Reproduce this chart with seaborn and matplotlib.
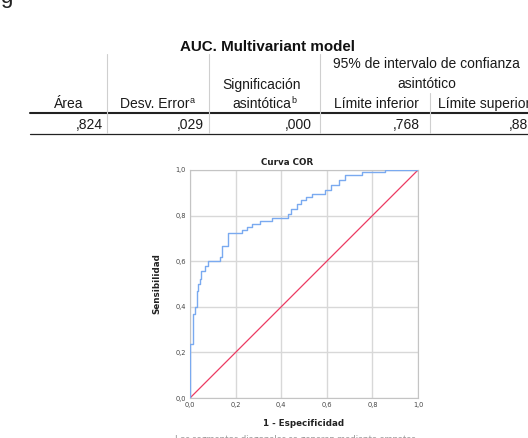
import matplotlib
matplotlib.use("Agg")
import matplotlib.pyplot as plt
from matplotlib.lines import Line2D
import pandas as pd
import seaborn as sns

# ROC curve vertices (1 - specificity, sensitivity)
fpr = [0.0, 0.0, 0.011, 0.011, 0.022, 0.022, 0.03, 0.03, 0.036, 0.036, 0.044, 0.044,
       0.05, 0.05, 0.065, 0.065, 0.08, 0.08, 0.132, 0.132, 0.14, 0.14, 0.168, 0.168,
       0.227, 0.227, 0.25, 0.25, 0.27, 0.27, 0.307, 0.307, 0.36, 0.36, 0.43, 0.43,
       0.445, 0.445, 0.47, 0.47, 0.485, 0.485, 0.51, 0.51, 0.535, 0.535, 0.59, 0.59,
       0.62, 0.62, 0.655, 0.655, 0.68, 0.68, 0.753, 0.753, 0.855, 0.855, 1.0]
tpr = [0.0, 0.237, 0.237, 0.37, 0.37, 0.40, 0.40, 0.47, 0.47, 0.50, 0.50, 0.52,
       0.52, 0.555, 0.555, 0.578, 0.578, 0.60, 0.60, 0.62, 0.62, 0.665, 0.665, 0.722,
       0.722, 0.737, 0.737, 0.75, 0.75, 0.763, 0.763, 0.776, 0.776, 0.79, 0.79, 0.805,
       0.805, 0.83, 0.83, 0.85, 0.85, 0.868, 0.868, 0.882, 0.882, 0.895, 0.895, 0.912,
       0.912, 0.935, 0.935, 0.958, 0.958, 0.978, 0.978, 0.99, 0.99, 1.0, 1.0]
ref_line = [0.0, 1.0]
ticks = [0.0, 0.2, 0.4, 0.6, 0.8, 1.0]
tick_labels = ["0,0", "0,2", "0,4", "0,6", "0,8", "1,0"]

# AUC summary table
auc_title = "AUC. Multivariant model"
auc_values = [",824", ",029", ",000", ",768", ",881"]

W, H = 528, 438
sns.set_style("white")
plt.rcParams["font.family"] = ["Liberation Sans", "DejaVu Sans"]
fig = plt.figure(figsize=(W / 100, H / 100), dpi=100)


def fx(px):
    return px / W


def fy(py):
    return 1 - py / H


def hline(x0, x1, y, lw=0.8, color="#222222"):
    fig.add_artist(Line2D([fx(x0), fx(x1)], [fy(y), fy(y)], lw=lw, color=color))


def vline(x, y0, y1, lw=0.8, color="#cfcfcf"):
    fig.add_artist(Line2D([fx(x), fx(x)], [fy(y0), fy(y1)], lw=lw, color=color))


tkw = dict(fontsize=10, color="#1a1a1a", va="baseline")
sup = dict(fontsize=6.5, color="#1a1a1a", va="baseline", ha="left")

# Tail of the caption line above the table
fig.text(fx(0), fy(3.5), "g", fontsize=16, va="baseline", color="#222222")

fig.text(fx(268), fy(51), auc_title, ha="center", va="baseline",
         fontsize=10.9, fontweight="bold", color="#111111")

# Header
fig.text(fx(83), fy(108), "Área", ha="right", **tkw)
fig.text(fx(189.5), fy(108), "Desv. Error", ha="right", **tkw)
fig.text(fx(190), fy(103), "a", **sup)
fig.text(fx(262), fy(88.5), "Significación", ha="center", **tkw)
fig.text(fx(291), fy(108), "asintótica", ha="right", **tkw)
fig.text(fx(291.5), fy(103), "b", **sup)
fig.text(fx(333), fy(68), "95% de intervalo de confianza", ha="left", **tkw)
fig.text(fx(427), fy(88.5), "asintótico", ha="center", **tkw)
fig.text(fx(419), fy(108), "Límite inferior", ha="right", **tkw)
fig.text(fx(438), fy(108), "Límite superior", ha="left", **tkw)

# Values row
value_right = [103, 204, 312, 420, 536]
for v, xr in zip(auc_values, value_right):
    fig.text(fx(xr), fy(129), v, ha="right", **tkw)

# Table rules
hline(30, 528, 113, lw=1.5)
hline(30, 528, 133.5, lw=0.9)
for xv in (107, 209, 320):
    vline(xv, 54, 133)
vline(430, 93, 133)

# ROC chart
ax = fig.add_axes([fx(190), fy(398), fx(418) - fx(190), fy(170) - fy(398)])
roc = pd.DataFrame({"fpr": fpr, "tpr": tpr})
ref = pd.DataFrame({"x": ref_line, "y": ref_line})
sns.lineplot(data=ref, x="x", y="y", ax=ax, color="#ec3a62", lw=0.9,
             sort=False, estimator=None, zorder=3)
sns.lineplot(data=roc, x="fpr", y="tpr", ax=ax, color="#7aaaf0", lw=1.0,
             sort=False, estimator=None, zorder=4)

ax.set_xlim(0, 1)
ax.set_ylim(0, 1)
ax.set_xticks(ticks)
ax.set_yticks(ticks)
ax.set_xticklabels(tick_labels)
ax.set_yticklabels(tick_labels)
ax.grid(True, color="#d8d8d8", lw=1.0)
for s in ax.spines.values():
    s.set_color("#c4c4c4")
    s.set_linewidth(0.8)
ax.tick_params(axis="both", length=0, pad=3, labelsize=4.8, labelcolor="#444444")
for lab in ax.get_xticklabels() + ax.get_yticklabels():
    lab.set_fontfamily(["DejaVu Sans"])

lab_font = dict(fontsize=6.3, fontweight="bold", color="#222222",
                fontfamily=["DejaVu Sans"])
ax.set_xlabel("1 - Especificidad", labelpad=8, **lab_font)
ax.set_ylabel("Sensibilidad", labelpad=10, **lab_font)
fig.text(fx(287), fy(165), "Curva COR", ha="center", va="baseline", **lab_font)

# Footnote under the chart, cut by the lower edge
fig.text(fx(175), fy(435), "Los segmentos diagonales se generan mediante empates.",
         ha="left", va="top", fontsize=7, color="#9a9a9a",
         fontfamily=["Lato", "DejaVu Sans"])

fig.savefig("out.png", dpi=100)
